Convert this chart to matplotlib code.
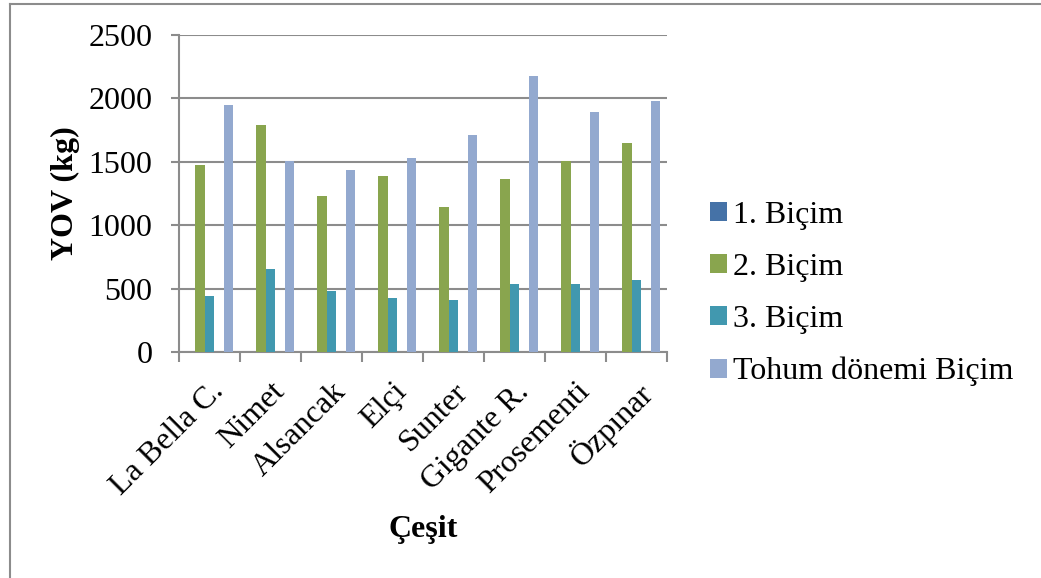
import matplotlib
matplotlib.use("Agg")
import matplotlib.pyplot as plt
from matplotlib.lines import Line2D
import numpy as np

categories = ["La Bella C.", "Nimet", "Alsancak", "Elçi", "Sunter", "Gigante R.", "Prosementi", "Özpınar"]
bicim1 = [0, 0, 0, 0, 0, 0, 0, 0]
bicim2 = [1475, 1790, 1233, 1388, 1146, 1362, 1506, 1646]
bicim3 = [439, 657, 478, 429, 407, 539, 536, 565]
tohum = [1948, 1506, 1438, 1533, 1711, 2176, 1890, 1982]
series_names = ["1. Biçim", "2. Biçim", "3. Biçim", "Tohum dönemi Biçim"]
yticks = [0, 500, 1000, 1500, 2000, 2500]

colors = ["#4572A7", "#89A54E", "#4198AF", "#93A9CF"]
slots = [0, 1, 2, 4]

plt.rcParams['font.family'] = ['Liberation Serif', 'DejaVu Serif']
FS = 23

W, H = 1041, 578
fig = plt.figure(figsize=(W / 100, H / 100), dpi=100)
ax = fig.add_axes([179 / W, 1 - 352 / H, (667 - 179) / W, (352 - 35) / H])

n = len(categories)
w = 0.157
off = (1 - 5 * w) / 2
idx = np.arange(n)
data = [bicim1, bicim2, bicim3, tohum]
for s, vals, c, name in zip(slots, data, colors, series_names):
    ax.bar(idx + off + s * w, vals, width=w, align='edge', color=c, label=name,
           edgecolor='none', zorder=3)

ax.set_xlim(0, n)
ax.set_ylim(0, 2500)
ax.set_yticks(yticks)
ax.set_yticklabels([str(v) for v in yticks], fontsize=FS)
ax.yaxis.grid(True, color='#8c8c8c', linewidth=1.5, zorder=0)
ax.set_axisbelow(True)

ax.set_xticks(idx + 0.5)
ax.set_xticklabels(categories, rotation=45, ha='right', va='top',
                   rotation_mode='anchor', fontsize=FS)
ax.tick_params(axis='x', which='major', length=0, pad=18)
ax.set_xticks(np.arange(n + 1), minor=True)
ax.tick_params(axis='x', which='minor', length=7, width=1.5, color='#8c8c8c', direction='out')
ax.tick_params(axis='y', length=6, width=1.5, color='#8c8c8c', pad=13)

for sp in ['top', 'right']:
    ax.spines[sp].set_visible(False)
for sp in ['left', 'bottom']:
    ax.spines[sp].set_color('#8c8c8c')
    ax.spines[sp].set_linewidth(1.5)

fig.text(65 / W, 1 - 193 / H, "YOV (kg)", rotation=90, ha='center', va='center',
         fontsize=FS, fontweight='bold')
fig.text(423 / W, 1 - 530 / H, "Çeşit", ha='center', va='center',
         fontsize=FS, fontweight='bold')

handles, labels = ax.get_legend_handles_labels()
leg = fig.legend(handles, labels, loc='upper left', bbox_to_anchor=(710 / W, 1 - 201 / H),
                 frameon=False, fontsize=FS, handlelength=0.53, handleheight=0.53,
                 handletextpad=0.2, labelspacing=0.72, borderaxespad=0, borderpad=0)

fig.add_artist(Line2D([10 / W, 10 / W], [0, 1 - 4 / H], transform=fig.transFigure,
                      color='#8c8c8c', linewidth=1.5))
fig.add_artist(Line2D([10 / W, 1], [1 - 4 / H, 1 - 4 / H], transform=fig.transFigure,
                      color='#8c8c8c', linewidth=1.5))

fig.savefig("out.png", dpi=100, facecolor='white')
